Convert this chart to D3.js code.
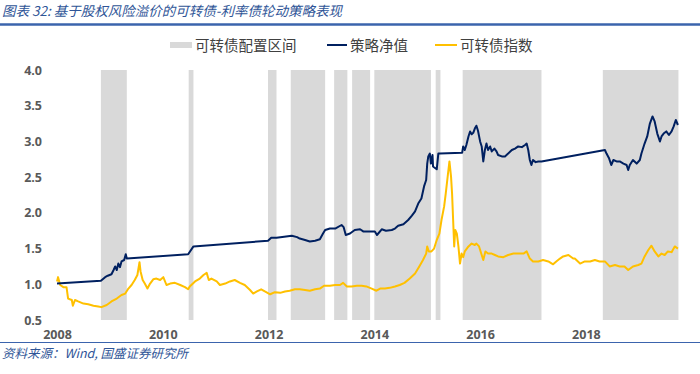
<!DOCTYPE html>
<html><head><meta charset="utf-8">
<script src="https://cdn.jsdelivr.net/npm/d3@7/dist/d3.min.js"></script>
<style>html,body{margin:0;padding:0;background:#fff;}svg{display:block;}</style>
</head><body>
<svg id="c" width="700" height="374"></svg>
<script>
// ---- data (decimal year, value) ----
const bands = [[2008.83,2009.32],[2010.49,2010.58],[2011.99,2012.15],[2012.42,2013.07],[2013.24,2013.49],[2013.58,2013.92],[2014.00,2015.07],[2015.16,2015.25],[2015.67,2017.16],[2018.32,2019.75]];
const strategy = [[2008.00,1.01],[2008.83,1.05],[2008.91,1.10],[2008.96,1.12],[2009.03,1.14],[2009.07,1.20],[2009.10,1.25],[2009.13,1.20],[2009.16,1.29],[2009.19,1.24],[2009.22,1.32],[2009.27,1.34],[2009.30,1.42],[2009.32,1.36],[2010.48,1.42],[2010.58,1.53],[2011.99,1.61],[2012.05,1.65],[2012.15,1.65],[2012.44,1.68],[2012.54,1.66],[2012.59,1.64],[2012.69,1.62],[2012.78,1.60],[2012.88,1.61],[2012.97,1.63],[2013.03,1.71],[2013.07,1.76],[2013.16,1.78],[2013.26,1.78],[2013.38,1.83],[2013.42,1.80],[2013.46,1.69],[2013.54,1.71],[2013.63,1.76],[2013.73,1.77],[2013.79,1.74],[2013.88,1.74],[2014.01,1.74],[2014.05,1.69],[2014.14,1.77],[2014.22,1.75],[2014.33,1.76],[2014.39,1.78],[2014.45,1.82],[2014.55,1.84],[2014.64,1.90],[2014.71,1.96],[2014.77,2.02],[2014.83,2.13],[2014.89,2.20],[2014.94,2.37],[2014.98,2.46],[2015.00,2.69],[2015.02,2.79],[2015.05,2.83],[2015.07,2.69],[2015.10,2.81],[2015.11,2.65],[2015.18,2.61],[2015.21,2.83],[2015.24,2.83],[2015.66,2.84],[2015.68,2.93],[2015.71,2.88],[2015.74,2.95],[2015.78,3.07],[2015.81,3.14],[2015.84,3.10],[2015.87,3.12],[2015.90,3.18],[2015.93,3.22],[2015.96,3.15],[2016.00,3.00],[2016.03,2.93],[2016.06,2.72],[2016.09,2.88],[2016.12,2.97],[2016.15,2.88],[2016.19,2.93],[2016.22,2.86],[2016.27,2.90],[2016.31,2.86],[2016.34,2.81],[2016.41,2.79],[2016.47,2.79],[2016.53,2.83],[2016.60,2.88],[2016.66,2.90],[2016.72,2.93],[2016.79,2.92],[2016.85,2.95],[2016.88,2.97],[2016.91,2.88],[2016.94,2.74],[2016.97,2.67],[2017.00,2.74],[2017.05,2.71],[2017.10,2.72],[2017.16,2.72],[2018.36,2.88],[2018.39,2.83],[2018.44,2.76],[2018.48,2.67],[2018.52,2.74],[2018.58,2.72],[2018.64,2.72],[2018.71,2.69],[2018.77,2.67],[2018.80,2.60],[2018.83,2.67],[2018.89,2.74],[2018.96,2.69],[2019.02,2.74],[2019.05,2.83],[2019.11,2.97],[2019.16,3.07],[2019.21,3.25],[2019.26,3.35],[2019.30,3.28],[2019.35,3.11],[2019.40,3.00],[2019.43,3.07],[2019.47,3.11],[2019.52,3.14],[2019.57,3.09],[2019.62,3.14],[2019.66,3.21],[2019.70,3.30],[2019.74,3.23]];
const cbIndex = [[2008.00,1.04],[2008.02,1.10],[2008.06,0.99],[2008.12,0.96],[2008.18,0.96],[2008.21,0.80],[2008.28,0.78],[2008.30,0.70],[2008.34,0.78],[2008.40,0.76],[2008.50,0.73],[2008.59,0.72],[2008.69,0.70],[2008.78,0.69],[2008.84,0.68],[2008.94,0.71],[2009.03,0.76],[2009.13,0.80],[2009.22,0.85],[2009.29,0.87],[2009.35,0.94],[2009.41,0.99],[2009.47,1.06],[2009.52,1.13],[2009.56,1.31],[2009.58,1.18],[2009.62,1.06],[2009.66,1.01],[2009.71,0.94],[2009.76,1.01],[2009.82,1.07],[2009.88,1.08],[2009.95,1.06],[2010.01,1.10],[2010.07,0.99],[2010.14,1.01],[2010.23,1.02],[2010.33,0.99],[2010.42,0.96],[2010.48,0.93],[2010.51,0.97],[2010.61,1.04],[2010.70,1.08],[2010.77,1.13],[2010.83,1.16],[2010.87,1.06],[2010.92,1.08],[2011.02,1.04],[2011.08,0.99],[2011.18,1.01],[2011.27,1.04],[2011.36,1.06],[2011.46,1.02],[2011.55,0.99],[2011.65,0.92],[2011.71,0.87],[2011.78,0.90],[2011.86,0.93],[2011.93,0.90],[2012.03,0.86],[2012.12,0.89],[2012.22,0.88],[2012.31,0.90],[2012.40,0.91],[2012.50,0.93],[2012.59,0.93],[2012.69,0.92],[2012.78,0.91],[2012.88,0.93],[2012.97,0.94],[2013.05,0.98],[2013.16,0.98],[2013.26,0.99],[2013.35,0.99],[2013.41,1.02],[2013.48,0.97],[2013.57,0.97],[2013.67,0.98],[2013.76,0.98],[2013.85,0.97],[2013.95,0.94],[2014.04,0.91],[2014.11,0.94],[2014.20,0.94],[2014.29,0.95],[2014.39,0.97],[2014.48,0.99],[2014.57,1.02],[2014.67,1.08],[2014.77,1.15],[2014.85,1.25],[2014.92,1.34],[2014.98,1.43],[2015.00,1.53],[2015.03,1.46],[2015.08,1.46],[2015.13,1.50],[2015.18,1.62],[2015.23,1.71],[2015.27,1.90],[2015.32,2.09],[2015.35,2.27],[2015.39,2.53],[2015.42,2.72],[2015.45,2.51],[2015.47,2.27],[2015.49,1.90],[2015.51,1.53],[2015.53,1.76],[2015.56,1.71],[2015.59,1.53],[2015.62,1.29],[2015.65,1.43],[2015.68,1.38],[2015.71,1.46],[2015.78,1.53],[2015.84,1.57],[2015.90,1.55],[2015.93,1.57],[2015.98,1.53],[2016.03,1.41],[2016.06,1.34],[2016.10,1.46],[2016.15,1.43],[2016.22,1.43],[2016.28,1.41],[2016.34,1.39],[2016.44,1.38],[2016.53,1.41],[2016.63,1.43],[2016.72,1.43],[2016.82,1.43],[2016.88,1.46],[2016.94,1.36],[2017.00,1.32],[2017.10,1.32],[2017.19,1.34],[2017.29,1.32],[2017.38,1.28],[2017.44,1.32],[2017.51,1.36],[2017.57,1.39],[2017.67,1.41],[2017.76,1.36],[2017.79,1.36],[2017.89,1.29],[2017.98,1.32],[2018.08,1.32],[2018.17,1.34],[2018.26,1.32],[2018.36,1.32],[2018.45,1.25],[2018.55,1.27],[2018.64,1.25],[2018.73,1.25],[2018.80,1.20],[2018.89,1.25],[2018.99,1.27],[2019.05,1.29],[2019.11,1.39],[2019.18,1.48],[2019.24,1.54],[2019.30,1.46],[2019.37,1.39],[2019.43,1.43],[2019.49,1.41],[2019.55,1.46],[2019.62,1.45],[2019.68,1.53],[2019.74,1.50]];
const xTicks = [2008,2010,2012,2014,2016,2018];
const yTicks = [0.5,1.0,1.5,2.0,2.5,3.0,3.5,4.0];
const legendLabels = ["可转债配置区间","策略净值","可转债指数"];
const titleText = "图表 32:  基于股权风险溢价的可转债-利率债轮动策略表现";
const sourceText = "资料来源：Wind, 国盛证券研究所";

// ---- drawing ----
const svg = d3.select("#c");
const FONT = "'Noto Sans CJK SC','Noto Sans',sans-serif";
const x = d3.scaleLinear().domain([2008, 2019.77]).range([57, 679.5]);
const y = d3.scaleLinear().domain([0.5, 4.0]).range([320, 70]);
const BLUE = "#2F5597", NAVY = "#002060", GOLD = "#FFC000", GREY = "#D9D9D9";

// title
svg.append("text").attr("x", 2).attr("y", 16).attr("font-family", FONT)
  .attr("font-size", 13.5).attr("font-style", "italic").attr("fill", BLUE).text(titleText);
svg.append("line").attr("x1", 0).attr("x2", 700).attr("y1", 24.5).attr("y2", 24.5)
  .attr("stroke", "#3B64AD").attr("stroke-width", 2.5);

// bands
svg.append("g").selectAll("rect").data(bands).join("rect")
  .attr("x", d => x(d[0])).attr("width", d => x(d[1]) - x(d[0]))
  .attr("y", y(4.0)).attr("height", y(0.5) - y(4.0)).attr("fill", GREY);

// axes
const yAxis = d3.axisLeft(y).tickValues(yTicks).tickFormat(d3.format(".1f")).tickSize(0).tickPadding(0);
const gy = svg.append("g").attr("transform", "translate(42,0)").call(yAxis);
gy.select(".domain").remove();
gy.selectAll("text").attr("font-family", "'Open Sans','DejaVu Sans',sans-serif").attr("font-size", 12.5)
  .attr("font-weight", "bold").attr("fill", "#595959");

const xAxis = d3.axisBottom(x).tickValues(xTicks).tickFormat(d3.format("d")).tickSize(0).tickPadding(0);
const gx = svg.append("g").attr("transform", "translate(0,330)").call(xAxis);
gx.select(".domain").remove();
gx.selectAll("text").attr("font-family", "'Open Sans','DejaVu Sans',sans-serif").attr("font-size", 12.5)
  .attr("font-weight", "bold").attr("fill", "#595959");

// lines
const line = d3.line().x(d => x(d[0])).y(d => y(d[1]));
svg.append("path").datum(cbIndex).attr("d", line).attr("fill", "none")
  .attr("stroke", GOLD).attr("stroke-width", 2).attr("stroke-linejoin", "round");
svg.append("path").datum(strategy).attr("d", line).attr("fill", "none")
  .attr("stroke", NAVY).attr("stroke-width", 2).attr("stroke-linejoin", "round");

// legend
const lg = svg.append("g").attr("font-family", FONT).attr("font-size", 14.5).attr("fill", "#404040");
lg.append("rect").attr("x", 170).attr("y", 42).attr("width", 22).attr("height", 6).attr("fill", GREY);
lg.append("text").attr("x", 195).attr("y", 50.5).text(legendLabels[0]);
lg.append("line").attr("x1", 327).attr("x2", 347).attr("y1", 45).attr("y2", 45).attr("stroke", NAVY).attr("stroke-width", 2);
lg.append("text").attr("x", 350).attr("y", 50.5).text(legendLabels[1]);
lg.append("line").attr("x1", 435).attr("x2", 457).attr("y1", 45).attr("y2", 45).attr("stroke", GOLD).attr("stroke-width", 2);
lg.append("text").attr("x", 460).attr("y", 50.5).text(legendLabels[2]);

// footer
svg.append("line").attr("x1", 0).attr("x2", 700).attr("y1", 342.5).attr("y2", 342.5)
  .attr("stroke", "#3B64AD").attr("stroke-width", 1.2);
svg.append("text").attr("x", 2).attr("y", 358).attr("font-family", FONT)
  .attr("font-size", 12.5).attr("font-style", "italic").attr("fill", BLUE).text(sourceText);
</script>
</body></html>
